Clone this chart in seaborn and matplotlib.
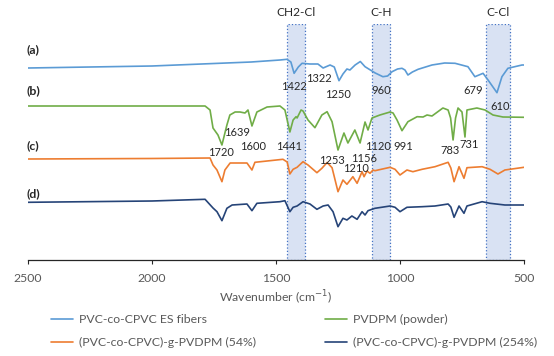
import pandas as pd
import numpy as np
import matplotlib
matplotlib.use("Agg")
import matplotlib.pyplot as plt
import seaborn as sns

# spectra (wavenumber, offset transmittance in arbitrary units)
fibers_wn = [2500, 2000, 1750, 1600, 1484, 1456, 1440, 1427, 1410, 1395, 1363, 1331, 1310, 1282,
             1265, 1246, 1230, 1214, 1202, 1181, 1160, 1141, 1100, 1069, 1050, 1032, 1010, 992,
             980, 968, 950, 927, 871, 820, 778, 726, 698, 665, 645, 609, 589, 565, 508, 500]
fibers_t = [192, 194, 196.5, 198, 200, 200.7, 198, 186.7, 193, 196.7, 196, 196, 192, 195,
            193, 179.3, 186, 191, 190, 195, 198.5, 193.3, 187, 183.3, 184, 188.3, 191, 191.7,
            190, 185, 188, 190.7, 195, 197, 196.7, 193.3, 183.3, 186.7, 180, 167.3, 183.3, 191.7, 195, 195]

powder_wn = [2500, 2000, 1786, 1766, 1754, 1734, 1718, 1698, 1686, 1665, 1645, 1625, 1613, 1597,
             1577, 1536, 1484, 1464, 1444, 1431, 1419, 1415, 1399, 1391, 1371, 1343, 1315, 1294,
             1274, 1250, 1226, 1210, 1182, 1161, 1141, 1129, 1113, 1081, 1040, 1028, 1012, 992,
             968, 931, 907, 891, 871, 827, 806, 796, 786, 776, 766, 750, 738, 730, 690, 657,
             625, 585, 500]
powder_t = [154, 154, 154, 150, 132, 125, 115, 135, 145, 148, 148, 147, 150, 134,
            148, 153, 154, 150, 128, 140, 143.3, 142, 150, 149, 140, 132.3, 145, 148.3,
            138.3, 110, 127, 117, 130, 117, 138, 130, 142, 145, 148, 147, 140, 129.3,
            138.3, 143.3, 143, 145, 144, 152, 150, 142, 120, 142, 152, 148, 123, 150, 152, 150,
            145, 143, 142.7]

graft54_wn = [2500, 2000, 1766, 1754, 1738, 1718, 1706, 1685, 1617, 1597, 1585, 1472, 1455, 1444,
              1431, 1415, 1391, 1371, 1335, 1315, 1294, 1274, 1250, 1230, 1214, 1190, 1173, 1153,
              1145, 1133, 1121, 1109, 1101, 1040, 1020, 1000, 972, 948, 911, 859, 806, 795,
              782, 762, 742, 730, 669, 637, 605, 577, 500]
graft54_t = [101, 101.5, 102, 95, 90, 78.3, 90, 97, 97, 90, 97.7, 100.7, 98, 86,
             90.7, 92.7, 98.3, 95, 87.3, 91.7, 97.5, 92.3, 68.3, 80, 75.7, 83.3, 76.7, 88.3,
             83.3, 89, 86.7, 90, 89.3, 92.7, 90.7, 85, 90, 88.3, 90.7, 93.3, 97.7, 92,
             78.3, 93.3, 81.7, 92.3, 93.3, 90.7, 86, 90, 92.7]

graft254_wn = [2500, 2000, 1786, 1754, 1738, 1718, 1698, 1677, 1617, 1597, 1577, 1484, 1464, 1444,
               1431, 1415, 1391, 1363, 1335, 1310, 1290, 1270, 1250, 1230, 1214, 1194, 1173, 1153,
               1141, 1129, 1113, 1101, 1040, 1020, 1000, 972, 911, 859, 806, 795, 782, 762,
               742, 730, 669, 637, 577, 500]
graft254_t = [57.7, 59, 60.7, 52, 48.3, 39.3, 51.7, 55, 56, 49.3, 56.7, 58.3, 59.3, 48.3,
              52.7, 54, 58.3, 56, 50.7, 54, 55, 48.3, 33.3, 41.7, 40, 44, 40.7, 48.3,
              45, 49.3, 50.7, 51.7, 54, 52.7, 48.3, 52.7, 53.3, 54, 56, 53, 42.7, 54,
              46.7, 54, 58.3, 56.7, 55, 55]

series_names = ["PVC-co-CPVC ES fibers", "PVDPM (powder)",
                "(PVC-co-CPVC)-g-PVDPM (54%)", "(PVC-co-CPVC)-g-PVDPM (254%)"]
series_tags = ["(a)", "(b)", "(c)", "(d)"]

# highlighted bands
band_names = ["CH2-Cl", "C-H", "C-Cl"]
band_hi = [1457, 1113, 655]
band_lo = [1385, 1040, 558]

# peak labels and where they sit
peak_labels = ["1422", "1322", "1250", "960", "679", "610",
               "1639", "1720", "1600", "1441", "1120", "991", "783", "731",
               "1253", "1156", "1210"]
peak_label_pos = [(1427, 173), (1327, 181), (1250, 166), (1077, 169), (706, 169), (597, 153),
                  (1657, 127), (1722, 108), (1593, 114), (1448, 114), (1088, 113), (988, 113),
                  (798, 109), (722, 116),
                  (1274, 100), (1145, 102), (1177, 92)]

colors = ["#5b9bd5", "#70ad47", "#ed7d31", "#264478"]

sns.set_style("white")
plt.rcParams["font.family"] = ["Lato", "DejaVu Sans"]

frames = []
for name, wn, t in zip(series_names,
                       [fibers_wn, powder_wn, graft54_wn, graft254_wn],
                       [fibers_t, powder_t, graft54_t, graft254_t]):
    frames.append(pd.DataFrame({"wn": wn, "t": t, "sample": name}))
df = pd.concat(frames, ignore_index=True)

fig = plt.figure(figsize=(5.54, 3.56), dpi=100)
ax = fig.add_axes([28 / 554, 96 / 356, 496 / 554, 236 / 356])

for name_band, hi, lo in zip(band_names, band_hi, band_lo):
    ax.axvspan(lo, hi, facecolor="#d9e2f3", edgecolor="#4472c4", linestyle=":", linewidth=0.9, zorder=0)
    ax.text((hi + lo) / 2, 247, name_band, ha="center", va="center", fontsize=8.6, color="#262626")

sns.lineplot(data=df, x="wn", y="t", hue="sample", hue_order=series_names,
             palette=colors, linewidth=1.2, legend=False, ax=ax, estimator=None)

for tag, y in zip(series_tags, [210, 169, 114, 66]):
    ax.text(2508, y, tag, ha="left", va="center", fontsize=8.8, fontweight="bold", color="#262626")

for lab, (x, y) in zip(peak_labels, peak_label_pos):
    ax.text(x, y, lab, ha="center", va="center", fontsize=8.0, color="#262626")

ax.set_xlim(2500, 500)
ax.set_ylim(0, 236)
ax.set_xticks([2500, 2000, 1500, 1000, 500])
ax.set_yticks([])
ax.set_xlabel("Wavenumber (cm$^{-1}$)", fontsize=8.8, color="#595959", labelpad=4)
ax.set_ylabel("")
ax.tick_params(axis="x", labelsize=8.8, labelcolor="#595959", length=3, width=0.8, pad=6,
               direction="out", bottom=True, color="#262626")
sns.despine(ax=ax, left=True)
ax.spines["bottom"].set_color("#262626")
ax.spines["bottom"].set_linewidth(0.9)

lines = ax.get_lines()
order = [0, 2, 1, 3]
fig.legend([lines[i] for i in order], [series_names[i] for i in order],
           loc="upper left", bbox_to_anchor=(40 / 554, 1 - 303 / 356), ncol=2, frameon=False,
           fontsize=8.8, handlelength=1.8, handletextpad=0.5, columnspacing=5.6,
           labelspacing=1.0, labelcolor="#595959")

fig.savefig("out.png", dpi=100)
